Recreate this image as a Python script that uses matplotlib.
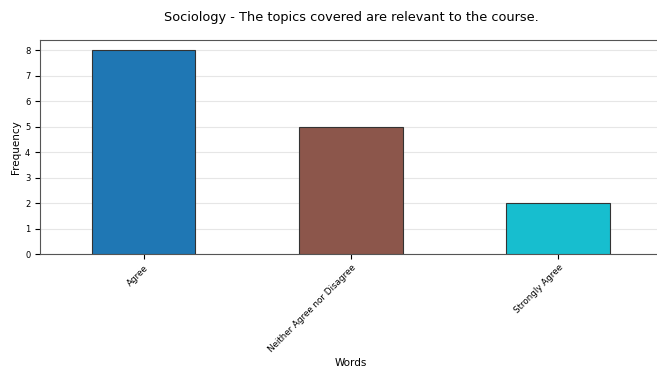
import matplotlib
matplotlib.use("Agg")
import matplotlib.pyplot as plt

categories = ["Agree", "Neither Agree nor Disagree", "Strongly Agree"]
values = [8, 5, 2]
colors = ["#1f77b4", "#8c564b", "#17becf"]
title = "Sociology - The topics covered are relevant to the course."

fig = plt.figure(figsize=(6.57, 3.76), dpi=100)
ax = fig.add_axes([40/657, 1-254/376, (662-40)/657, (254-40)/376])
x = list(range(len(categories)))
ax.bar(x, values, width=0.5, color=colors, edgecolor="#333333", linewidth=0.8, zorder=3)
ax.set_xlim(-0.5, 2.5)
ax.set_ylim(0, 8.4)
ax.set_yticks(range(0, 9))
ax.set_xticks(x)
ax.set_xticklabels(categories, rotation=45, ha="right", rotation_mode="anchor", fontsize=6.3)
ax.tick_params(axis="y", labelsize=6)
ax.tick_params(axis="x", pad=3)
ax.grid(axis="y", color="#e6e6e6", linewidth=0.8, zorder=0)
ax.set_axisbelow(True)
ax.set_ylabel("Frequency", fontsize=7.5, labelpad=3)
ax.set_xlabel("Words", fontsize=7.5, labelpad=3)
ax.set_title(title, fontsize=9.3, pad=14)
for s in ax.spines.values():
    s.set_color("#555555")
    s.set_linewidth(0.8)
fig.savefig("out.png", dpi=100)
